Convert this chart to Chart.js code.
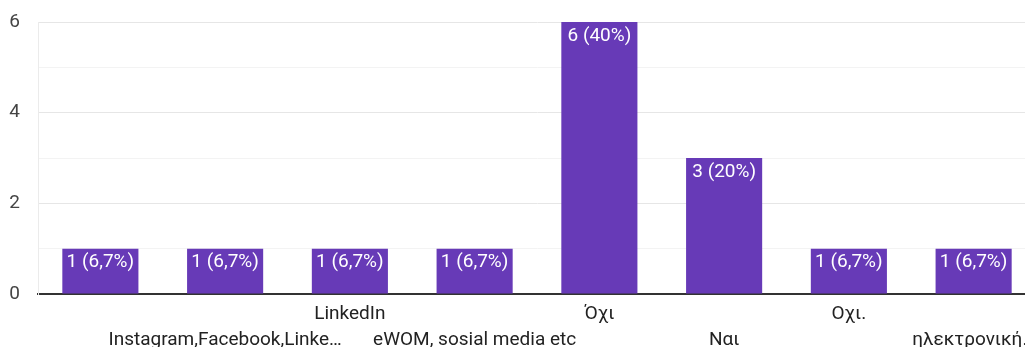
<!DOCTYPE html>
<html>
<head>
<meta charset="utf-8">
<script src="https://cdn.jsdelivr.net/npm/chart.js@4/dist/chart.umd.min.js"></script>
<style>
  html, body { margin: 0; padding: 0; background: #fff; overflow: hidden; }
  #wrap { position: absolute; left: 0; top: 0; width: 1036px; height: 347px; }
</style>
</head>
<body>
<div id="wrap"><canvas id="answersChart"></canvas></div>
<script>
// answers and counts
const categories = ['', 'Instagram,Facebook,Linke…', 'LinkedIn', 'eWOM, sosial media etc', 'Όχι', 'Ναι', 'Οχι.', 'ηλεκτρονική…'];
const counts = [1, 1, 1, 1, 6, 3, 1, 1];
const yTickLabels = [0, 2, 4, 6];

const total = counts.reduce((a, b) => a + b, 0);
const FONT = 'Roboto, sans-serif';

function pctText(v) {
    let p = Math.round(v / total * 1000) / 10;
    let s = (p % 1 === 0) ? p.toFixed(0) : p.toFixed(1);
    return v + ' (' + s.replace('.', ',') + '%)';
}

// white value label at the top of every bar
const barLabels = {
    id: 'barLabels',
    afterDatasetsDraw(chart) {
        const ctx = chart.ctx;
        const meta = chart.getDatasetMeta(0);
        ctx.save();
        ctx.fillStyle = '#ffffff';
        ctx.font = '19px ' + FONT;
        ctx.textAlign = 'center';
        ctx.textBaseline = 'middle';
        meta.data.forEach((bar, i) => {
            ctx.fillText(pctText(counts[i]), bar.x, bar.y + 14);
        });
        ctx.restore();
    }
};

new Chart(document.getElementById('answersChart'), {
    type: 'bar',
    data: {
        labels: categories,
        datasets: [{
            data: counts,
            backgroundColor: '#673ab7',
            barPercentage: 0.61,
            categoryPercentage: 1
        }]
    },
    options: {
        responsive: true,
        maintainAspectRatio: false,
        animation: false,
        layout: { padding: { top: 22, left: 0, right: 0, bottom: 0 } },
        plugins: {
            legend: { display: false },
            tooltip: { enabled: false }
        },
        scales: {
            x: {
                grid: { display: false, drawTicks: false },
                border: { color: '#333333', width: 2 },
                ticks: {
                    autoSkip: false,
                    maxRotation: 0,
                    minRotation: 0,
                    padding: 7,
                    color: '#222222',
                    font: { family: FONT, size: 19, lineHeight: '26px' },
                    // stagger the labels over two rows
                    callback: (val, i) => i % 2 === 1 ? ['', categories[i]] : [categories[i]]
                },
                afterFit(axis) {
                    axis.height = 53;
                    axis.paddingLeft = 0;
                    axis.paddingRight = 0;
                }
            },
            y: {
                min: 0,
                max: 6,
                grid: {
                    drawTicks: false,
                    color: ctx => ctx.tick.value === 0 ? 'rgba(0,0,0,0)' :
                        (ctx.tick.value % 2 === 0 ? '#e6e6e6' : '#f3f3f3')
                },
                border: { color: '#ebebeb', width: 1 },
                ticks: {
                    stepSize: 1,
                    padding: 18,
                    color: '#444444',
                    font: { family: FONT, size: 19 },
                    callback: v => yTickLabels.includes(v) ? v : ''
                },
                afterFit(axis) {
                    axis.width = 38;
                    axis.paddingTop = 0;
                    axis.paddingBottom = 0;
                }
            }
        }
    },
    plugins: [barLabels]
});
</script>
</body>
</html>
